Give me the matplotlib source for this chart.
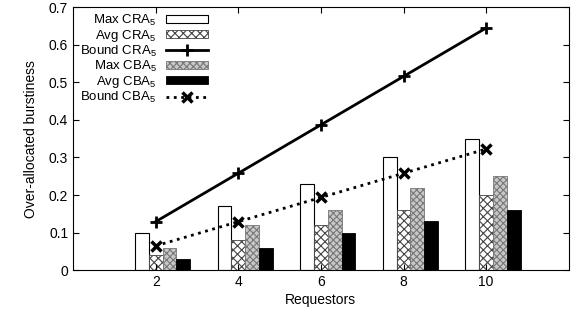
import numpy as np
import matplotlib
matplotlib.use("Agg")
import matplotlib.pyplot as plt

plt.rcParams['font.family'] = ['Liberation Sans', 'DejaVu Sans']
plt.rcParams['mathtext.fontset'] = 'custom'
plt.rcParams['mathtext.rm'] = 'Liberation Sans'
plt.rcParams['mathtext.it'] = 'Liberation Sans'
plt.rcParams['hatch.linewidth'] = 0.8

requestors = [2, 4, 6, 8, 10]
max_cra = [0.10, 0.17, 0.23, 0.30, 0.35]
avg_cra = [0.04, 0.08, 0.12, 0.16, 0.20]
max_cba = [0.06, 0.12, 0.16, 0.22, 0.25]
avg_cba = [0.03, 0.06, 0.10, 0.13, 0.16]
bound_cra = [0.129, 0.258, 0.387, 0.516, 0.645]
bound_cba = [0.0645, 0.129, 0.1935, 0.258, 0.3225]


def plot_chart():
    fig = plt.figure(figsize=(5.71, 3.2), dpi=100)
    ax = fig.add_axes([0.128, 0.156, 0.868, 0.821])

    x = np.array(requestors, dtype=float)
    w = 1.0 / 3
    h_max_cra = ax.bar(x - w, max_cra, w, facecolor='white', edgecolor='black', lw=0.8,
                       label='Max CRA$_5$')
    h_avg_cra = ax.bar(x, avg_cra, w, facecolor='white', edgecolor='#444444', hatch='xxxx',
                       lw=0.6, label='Avg CRA$_5$')
    h_max_cba = ax.bar(x + w, max_cba, w, facecolor='#c8c8c8', edgecolor='#777777',
                       hatch='xxxxx', lw=0.6, label='Max CBA$_5$')
    h_avg_cba = ax.bar(x + 2 * w, avg_cba, w, facecolor='black', edgecolor='black', lw=0.6,
                       label='Avg CBA$_5$')
    h_b_cra, = ax.plot(x, bound_cra, color='black', lw=2, marker='+', ms=9, mew=2,
                       label='Bound CRA$_5$')
    h_b_cba, = ax.plot(x, bound_cba, color='black', lw=2, ls=':', marker='x', ms=7, mew=2.5,
                       label='Bound CBA$_5$')

    ax.set_xlim(0, 12)
    ax.set_ylim(0, 0.7)
    ax.set_xticks(requestors)
    ax.set_yticks(np.arange(0, 0.71, 0.1))
    ax.set_yticklabels(['0', '0.1', '0.2', '0.3', '0.4', '0.5', '0.6', '0.7'])
    ax.tick_params(direction='in', top=True, right=True, labelsize=10, length=4)
    ax.set_xlabel('Requestors', fontsize=10, labelpad=3)
    ax.set_ylabel('Over-allocated burstiness', fontsize=10, labelpad=8)

    handles = [h_max_cra, h_avg_cra, h_b_cra, h_max_cba, h_avg_cba, h_b_cba]
    ax.legend(handles, [h.get_label() for h in handles],
              loc='upper left', markerfirst=False, frameon=False, fontsize=9.5,
              handlelength=3.2, handleheight=0.6, labelspacing=0.0, handletextpad=0.7,
              borderaxespad=0.1, bbox_to_anchor=(0.0, 1.005))

    fig.savefig('out.png', dpi=100)
    plt.close(fig)


if __name__ == "__main__":
    plot_chart()
